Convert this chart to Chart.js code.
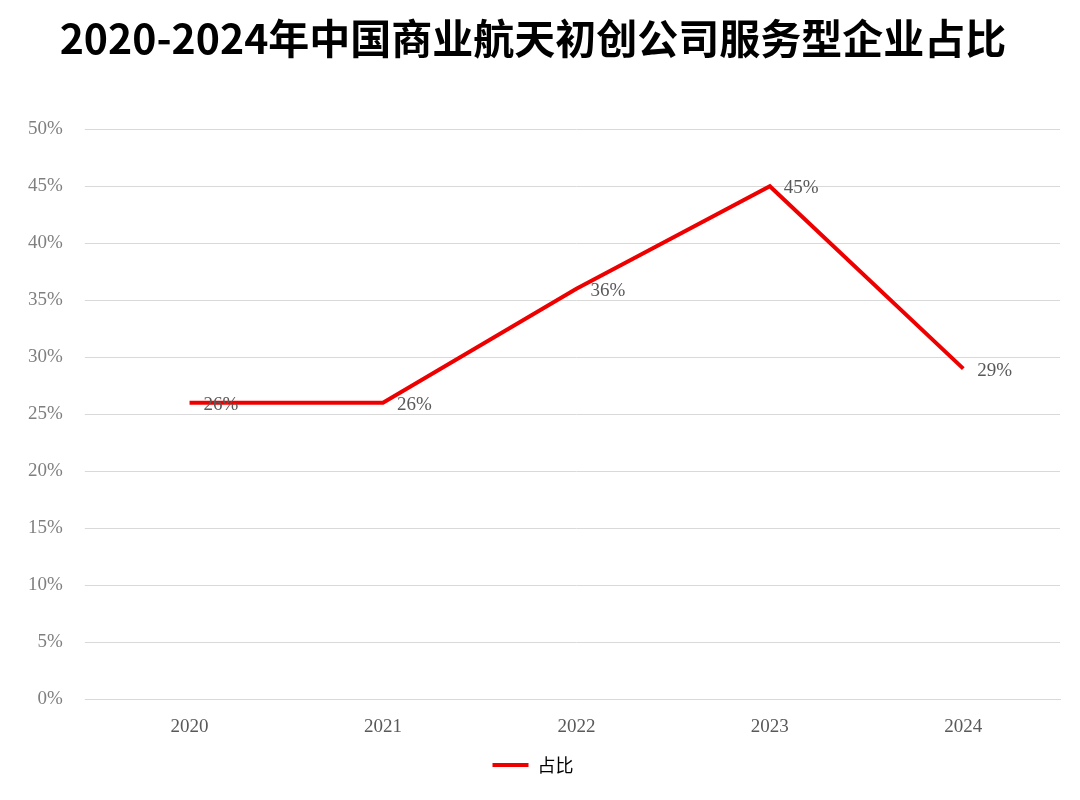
<!DOCTYPE html>
<html><head><meta charset="utf-8">
<script src="https://cdn.jsdelivr.net/npm/chart.js@4/dist/chart.umd.min.js"></script>
<style>html,body{margin:0;padding:0;background:#fff}#w{width:1080px;height:800px}</style>
</head><body><div id="w"><canvas id="c"></canvas></div>
<script>
const categories = ['2020','2021','2022','2023','2024'];
const values = [26, 26, 36, 45, 29];
const seriesName = '占比';
const titleText = '2020-2024年中国商业航天初创公司服务型企业占比';

const labelPlugin = {
  id: 'lbl',
  afterDatasetsDraw(chart) {
    const ctx = chart.ctx;
    const meta = chart.getDatasetMeta(0);
    ctx.save();
    ctx.font = '19px "Liberation Serif", serif';
    ctx.fillStyle = '#595959';
    ctx.textBaseline = 'middle';
    meta.data.forEach((p, i) => {
      ctx.fillText(values[i] + '%', p.x + 14, p.y + 2);
    });
    ctx.restore();
  }
};

new Chart(document.getElementById('c'), {
  type: 'line',
  data: { labels: categories, datasets: [{
    label: seriesName, data: values, borderColor: '#ee0000', backgroundColor: '#ee0000',
    borderWidth: 4, pointRadius: 0, tension: 0 }] },
  options: {
    responsive: true, maintainAspectRatio: false, animation: false,
    layout: { padding: { left: 6, right: 20, top: 8, bottom: 16 } },
    plugins: {
      title: { display: true, text: titleText, color: '#000',
        font: { size: 41, weight: 'bold', family: '"Noto Sans CJK SC", serif' },
        padding: { top: 6, bottom: 66 } },
      legend: { position: 'bottom', labels: { boxWidth: 36, boxHeight: 0, color: '#595959',
        font: { size: 18, family: '"Noto Sans CJK SC", sans-serif' },
        generateLabels: (ch) => [{ text: seriesName, strokeStyle: '#ee0000', fillStyle: '#ee0000', lineWidth: 4, datasetIndex: 0 }] } },
      tooltip: { enabled: false }
    },
    scales: {
      x: { offset: true, grid: { display: false }, border: { color: '#d9d9d9' },
        ticks: { color: '#595959', font: { size: 19, family: '"Liberation Serif", serif' }, padding: 8 } },
      y: { min: 0, max: 50, grid: { color: '#d9d9d9' }, border: { display: false },
        ticks: { stepSize: 5, callback: v => v + '%', color: '#7f7f7f',
          font: { size: 19, family: '"Liberation Serif", serif' }, padding: 22 } }
    }
  },
  plugins: [labelPlugin]
});
</script></body></html>
